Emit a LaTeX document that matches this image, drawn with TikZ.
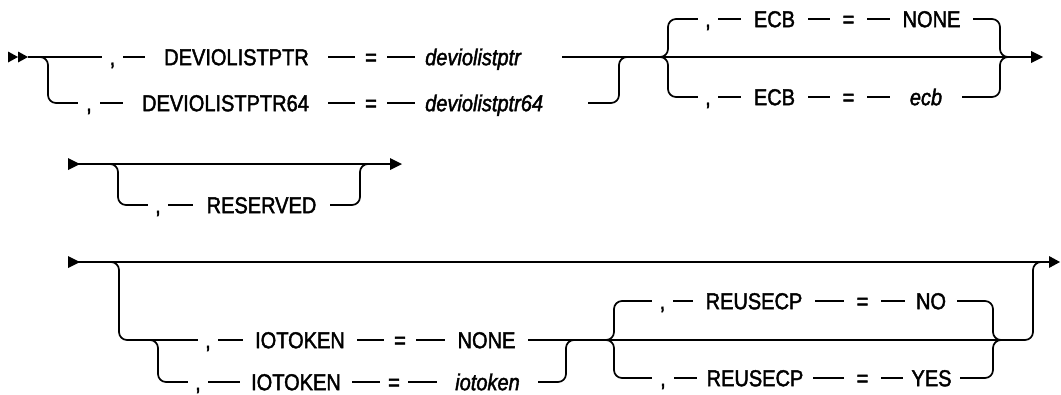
\documentclass[tikz,border=0pt]{standalone}
\usepackage{fontspec}
\setmainfont{Liberation Sans}[FakeStretch=0.87, FakeBold=1.8]
% \railtok[style]{name}{left gap}{right gap}{y}{text}: a token centred in a gap of its rail
\newcommand\railtok[6][tok]{%
  \node[#1, minimum width={(#4-#3)*1pt}] (#2) at ({(#3+#4)/2},#5) {#6};}
% \railvar{name}{left gap}{right gap}{y}{text}: an italic variable set flush left in its gap
\newcommand\railvar[5]{%
  \node[var, anchor=west, text width={(#3-#2)*1pt}, align=left] (#1) at (#2,#4)
    {\hspace*{10pt}#5};}
\begin{document}
\begin{tikzpicture}[x=1pt, y=-1pt,
  rail/.style={line width=1.7pt, rounded corners=8pt},
  tok/.style={fill=white, inner xsep=0pt, inner ysep=1pt, text height=16.4pt,
    text depth=0pt, font=\fontsize{23}{25}\selectfont},
  var/.style={tok, font=\fontsize{23}{25}\selectfont\itshape},
  tip/.style={fill=black}]
\useasboundingbox (0,0) rectangle (1061,394);

% ---------------- first line: DEVIOLISTPTR and ECB ----------------
\coordinate (r1a) at (28,57);
\coordinate (r1s) at (38,57);
\coordinate (r1dl) at (48,103);
\coordinate (r1dr) at (619,57);
\coordinate (r1dj) at (629,57);
\coordinate (r1es) at (658,57);
\coordinate (r1eu) at (668,19);
\coordinate (r1el) at (668,97);
\coordinate (r1er) at (1000,57);
\coordinate (r1ej) at (1010,57);
\coordinate (r1z) at (1032,57);

\fill[tip] (8,51.5) -- (18,57) -- (8,62.5) -- cycle;
\fill[tip] (18,51.5) -- (28,57) -- (18,62.5) -- cycle;
\draw[rail] (r1a) -- (r1z);
\draw[rail] (r1s) -| (r1dl) -| (r1dr) -- (r1dj);
\draw[rail] (r1es) -| (r1eu) -| (r1er) -- (r1ej);
\draw[rail] (r1es) -| (r1el) -| (r1er) -- (r1ej);
\fill[tip] (r1z) ++(-1,-6) -- ++(12,6) -- ++(-12,6) -- cycle;

\railtok{d1c}{102}{123}{57}{,}
\railtok{d1k}{145}{328}{57}{DEVIOLISTPTR}
\railtok{d1q}{355}{387}{57}{=}
\railvar{d1v}{415}{562}{57}{deviolistptr}

\railtok{d2c}{78}{100}{103}{,}
\railtok{d2k}{123}{328}{103}{DEVIOLISTPTR64}
\railtok{d2q}{355}{387}{103}{=}
\railvar{d2v}{415}{588}{103}{deviolistptr64}

\railtok{e1c}{698}{718}{19}{,}
\railtok{e1k}{741}{808}{19}{ECB}
\railtok{e1q}{830}{867}{19}{=}
\railtok{e1v}{890}{973}{19}{NONE}

\railtok{e2c}{698}{718}{97}{,}
\railtok{e2k}{741}{808}{97}{ECB}
\railtok{e2q}{830}{867}{97}{=}
\railtok[var]{e2v}{890}{962}{97}{ecb}

% ---------------- second line: RESERVED ----------------
\coordinate (r2a) at (78,164);
\coordinate (r2s) at (108,164);
\coordinate (r2l) at (118,205);
\coordinate (r2r) at (360,164);
\coordinate (r2j) at (370,164);
\coordinate (r2z) at (391,164);

\fill[tip] (68,158) -- (80,164) -- (68,170) -- cycle;
\draw[rail] (r2a) -- (r2z);
\draw[rail] (r2s) -| (r2l) -| (r2r) -- (r2j);
\fill[tip] (r2z) ++(-1,-6) -- ++(12,6) -- ++(-12,6) -- cycle;

\railtok{s1c}{148}{168}{205}{,}
\railtok{s1k}{193}{330}{205}{RESERVED}

% ---------------- third line: IOTOKEN and REUSECP ----------------
\coordinate (r3a) at (78,262);
\coordinate (r3s) at (109,262);
\coordinate (r3l) at (119,340);
\coordinate (r3r) at (1033,262);
\coordinate (r3j) at (1043,262);
\coordinate (r3z) at (1050,262);
\coordinate (r3is) at (150,340);
\coordinate (r3il) at (158,382);
\coordinate (r3ir) at (566,340);
\coordinate (r3ij) at (576,340);
\coordinate (r3us) at (606,340);
\coordinate (r3uu) at (614,301);
\coordinate (r3ul) at (614,378);
\coordinate (r3ur) at (993,340);
\coordinate (r3uj) at (1001,340);

\fill[tip] (68,256) -- (80,262) -- (68,268) -- cycle;
\draw[rail] (r3a) -- (r3z);
\draw[rail] (r3s) -| (r3l) -| (r3r) -- (r3j);
\draw[rail] (r3is) -| (r3il) -| (r3ir) -- (r3ij);
\draw[rail] (r3us) -| (r3uu) -| (r3ur) -- (r3uj);
\draw[rail] (r3us) -| (r3ul) -| (r3ur) -- (r3uj);
\fill[tip] (r3z) ++(-1,-6) -- ++(11,6) -- ++(-11,6) -- cycle;

\railtok{i1c}{198}{218}{340}{,}
\railtok{i1k}{243}{357}{340}{IOTOKEN}
\railtok{i1q}{384}{416}{340}{=}
\railtok{i1v}{445}{528}{340}{NONE}

\railtok{i2c}{188}{208}{382}{,}
\railtok{i2k}{240}{352}{382}{IOTOKEN}
\railtok{i2q}{380}{408}{382}{=}
\railtok[var]{i2v}{437}{538}{382}{iotoken}

\railtok{u1c}{652}{673}{301}{,}
\railtok{u1k}{693}{815}{301}{REUSECP}
\railtok{u1q}{844}{881}{301}{=}
\railtok{u1v}{905}{957}{301}{NO}

\railtok{u2c}{652}{674}{378}{,}
\railtok{u2k}{697}{813}{378}{REUSECP}
\railtok{u2q}{844}{881}{378}{=}
\railtok{u2v}{903}{960}{378}{YES}
\end{tikzpicture}
\end{document}
